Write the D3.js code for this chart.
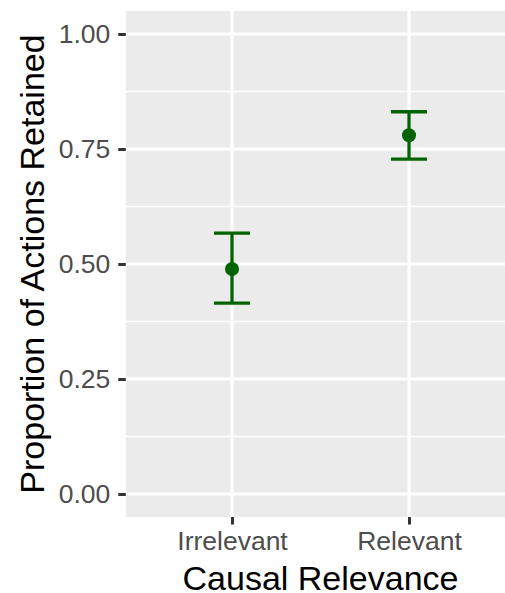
<!DOCTYPE html>
<html>
<head>
<meta charset="utf-8">
<script src="https://cdn.jsdelivr.net/npm/d3@7"></script>
<style>
  html, body { margin: 0; padding: 0; background: #fff; }
  svg { display: block; }
</style>
</head>
<body>
<svg id="chart" width="505" height="593"></svg>
<script>
// Proportion of actions retained by causal relevance (mean with error bars)
const categories = ["Irrelevant", "Relevant"];
const means = [0.489, 0.780];
const lowers = [0.415, 0.728];
const uppers = [0.567, 0.831];
const yTicks = [0, 0.25, 0.5, 0.75, 1.0];
const yMinor = [0.125, 0.375, 0.625, 0.875];

const svg = d3.select("#chart");
const font = "'Liberation Sans', Arial, sans-serif";

const panel = { left: 125.8, right: 515.2, top: 11, bottom: 517 };

// discrete x positions with 0.6-unit padding on each side
const x = d3.scaleLinear()
  .domain([-0.6, categories.length - 1 + 0.6])
  .range([panel.left, panel.right]);
const y = d3.scaleLinear()
  .domain([-0.05, 1.05])
  .range([panel.bottom, panel.top]);

// panel background
svg.append("rect")
  .attr("x", panel.left).attr("y", panel.top)
  .attr("width", panel.right - panel.left)
  .attr("height", panel.bottom - panel.top)
  .attr("fill", "#EBEBEB");

const grid = svg.append("g");
grid.selectAll("line.minor").data(yMinor).join("line")
  .attr("x1", panel.left).attr("x2", panel.right)
  .attr("y1", d => y(d)).attr("y2", d => y(d))
  .attr("stroke", "#fff").attr("stroke-width", 1.6);
grid.selectAll("line.majorY").data(yTicks).join("line")
  .attr("x1", panel.left).attr("x2", panel.right)
  .attr("y1", d => y(d)).attr("y2", d => y(d))
  .attr("stroke", "#fff").attr("stroke-width", 3.2);
grid.selectAll("line.majorX").data(categories).join("line")
  .attr("x1", (d, i) => x(i)).attr("x2", (d, i) => x(i))
  .attr("y1", panel.top).attr("y2", panel.bottom)
  .attr("stroke", "#fff").attr("stroke-width", 3.2);

// y axis
const yAxis = d3.axisLeft(y)
  .tickValues(yTicks)
  .tickFormat(d3.format(".2f"))
  .tickSize(7.5)
  .tickPadding(8);
const gy = svg.append("g")
  .attr("transform", `translate(${panel.left},0)`)
  .call(yAxis);
gy.select(".domain").remove();
gy.selectAll(".tick line").attr("stroke", "#333").attr("stroke-width", 3);
gy.selectAll(".tick text")
  .attr("fill", "#4D4D4D")
  .style("font-family", font)
  .style("font-size", "26.5px");

// x axis
const xAxis = d3.axisBottom(x)
  .tickValues(categories.map((d, i) => i))
  .tickFormat(i => categories[i])
  .tickSize(7.5)
  .tickPadding(7);
const gx = svg.append("g")
  .attr("transform", `translate(0,${panel.bottom})`)
  .call(xAxis);
gx.select(".domain").remove();
gx.selectAll(".tick line").attr("stroke", "#333").attr("stroke-width", 3);
gx.selectAll(".tick text")
  .attr("fill", "#4D4D4D")
  .style("font-family", font)
  .style("font-size", "26.5px");

// axis titles
svg.append("text")
  .attr("x", (panel.left + panel.right) / 2)
  .attr("y", 589.5)
  .attr("text-anchor", "middle")
  .attr("fill", "#000")
  .style("font-family", font)
  .style("font-size", "34px")
  .text("Causal Relevance");

svg.append("text")
  .attr("transform", `translate(44,${(panel.top + panel.bottom) / 2}) rotate(-90)`)
  .attr("text-anchor", "middle")
  .attr("fill", "#000")
  .style("font-family", font)
  .style("font-size", "34px")
  .text("Proportion of Actions Retained");

// error bars and points
const green = "#006400";
const capHalf = 18;
const marks = svg.append("g");
categories.forEach((c, i) => {
  const g = marks.append("g");
  g.append("line")
    .attr("x1", x(i)).attr("x2", x(i))
    .attr("y1", y(lowers[i])).attr("y2", y(uppers[i]))
    .attr("stroke", green).attr("stroke-width", 3.3);
  [lowers[i], uppers[i]].forEach(v => {
    g.append("line")
      .attr("x1", x(i) - capHalf).attr("x2", x(i) + capHalf)
      .attr("y1", y(v)).attr("y2", y(v))
      .attr("stroke", green).attr("stroke-width", 3.3);
  });
  g.append("circle")
    .attr("cx", x(i)).attr("cy", y(means[i]))
    .attr("r", 7)
    .attr("fill", green);
});
</script>
</body>
</html>
